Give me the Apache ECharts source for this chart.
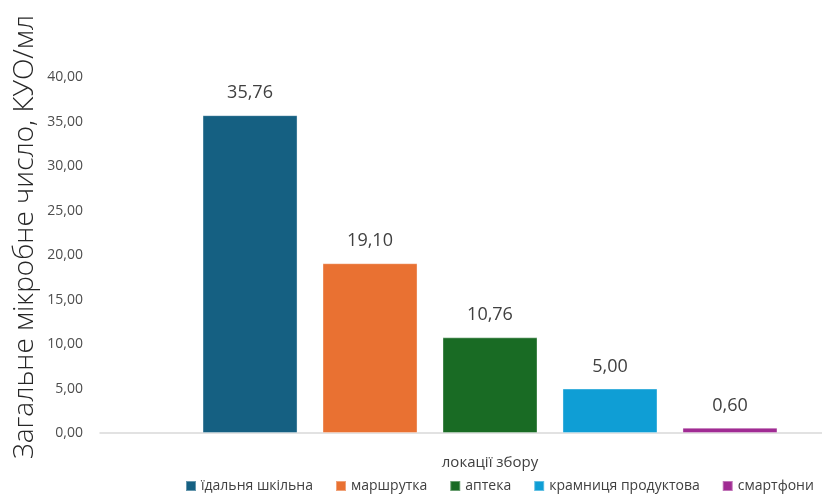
<!DOCTYPE html>
<html>
<head>
<meta charset="utf-8">
<script src="https://cdn.jsdelivr.net/npm/echarts@6/dist/echarts.min.js"></script>
<style>
  html, body { margin: 0; padding: 0; background: #fff; overflow: hidden; width: 822px; height: 494px; }
  /* drawing surface is wider than the window: the plot area continues past the right edge */
  #chart { width: 880px; height: 494px; }
</style>
</head>
<body>
<div id="chart"></div>
<script>
// Sampling location (single category) and its per-site series
const categories = ['локації збору'];
const seriesNames = ['їдальня шкільна', 'маршрутка', 'аптека', 'крамниця продуктова', 'смартфони'];
const seriesValues = [35.76, 19.10, 10.76, 5.00, 0.60];
const seriesColors = ['#156082', '#E97132', '#196B24', '#0F9ED5', '#A02B93'];
const yAxisTitle = 'Загальне мікробне число, КУО/мл';

const fmt = v => Number(v).toFixed(2).replace('.', ',');
const FONT = '"Open Sans", "Noto Sans", sans-serif';

const chart = echarts.init(document.getElementById('chart'), null, { renderer: 'canvas' });

chart.setOption({
  animation: false,
  backgroundColor: '#ffffff',
  grid: { left: 100, top: 77.5, bottom: 61, right: 0 },
  legend: {
    data: seriesNames,
    left: 180,
    top: 474,
    itemWidth: 10,
    itemHeight: 10,
    itemGap: 22,
    icon: 'rect',
    textStyle: { fontFamily: FONT, fontSize: 14, color: '#404040' }
  },
  xAxis: {
    type: 'category',
    data: categories,
    axisLine: { lineStyle: { color: '#D9D9D9', width: 1.5 } },
    axisTick: { show: false },
    axisLabel: { margin: 22, fontFamily: FONT, fontSize: 15, color: '#404040' }
  },
  yAxis: {
    type: 'value',
    min: 0,
    max: 40,
    interval: 5,
    axisLine: { show: false },
    axisTick: { show: false },
    splitLine: { show: false },
    axisLabel: {
      margin: 17,
      fontFamily: FONT,
      fontSize: 14,
      color: '#4d4d4d',
      formatter: v => fmt(v)
    }
  },
  graphic: [{
    type: 'text',
    x: 25,
    y: 237,
    rotation: Math.PI / 2,
    style: {
      text: yAxisTitle,
      fontFamily: FONT,
      fontSize: 28,
      fontWeight: 300,
      fill: '#262626',
      textAlign: 'center',
      textVerticalAlign: 'middle'
    }
  }],
  series: seriesNames.map((name, i) => ({
    name,
    type: 'bar',
    barWidth: 95,
    barGap: '26.3%',
    itemStyle: { color: seriesColors[i], borderColor: 'rgba(255,255,255,0.35)', borderWidth: 1 },
    label: {
      show: true,
      position: 'top',
      distance: 13,
      fontFamily: FONT,
      fontSize: 18,
      color: '#404040',
      formatter: p => fmt(p.value)
    },
    data: [seriesValues[i]]
  }))
});
</script>
</body>
</html>
